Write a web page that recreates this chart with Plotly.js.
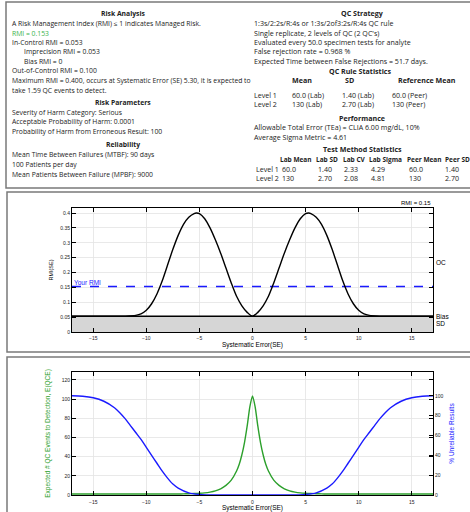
<!DOCTYPE html>
<html><head><meta charset="utf-8">
<script src="https://cdn.plot.ly/plotly-3.0.1.min.js"></script>
<style>html,body{margin:0;padding:0;background:#fff;}#chart{width:470px;height:512px;}</style>
</head><body><div id="chart"></div>
<script>
// ---------- data ----------
var seRmi = [-17,-13,-12,-11,-10.5,-10,-9.5,-9,-8.5,-8,-7.5,-7,-6.5,-6,-5.5,-5.3,-5,-4.5,-4,-3.5,-3,-2.5,-2,-1.5,-1,-0.5,0,0.5,1,1.5,2,2.5,3,3.5,4,4.5,5,5.3,5.5,6,6.5,7,7.5,8,8.5,9,9.5,10,10.5,11,12,13,17];
var rmi   = [0.053,0.053,0.0535,0.056,0.061,0.073,0.095,0.128,0.172,0.225,0.278,0.325,0.362,0.386,0.398,0.400,0.398,0.381,0.350,0.310,0.265,0.215,0.165,0.120,0.088,0.066,0.053,0.066,0.088,0.120,0.165,0.215,0.265,0.310,0.350,0.381,0.398,0.400,0.398,0.386,0.362,0.325,0.278,0.225,0.172,0.128,0.095,0.073,0.061,0.056,0.0535,0.053,0.053];
var inControlRmi = 0.053;
var yourRmi = 0.153;
var seFlat = [-17, 17];

var seQce = [-17,-9,-8,-7,-6.5,-6,-5.5,-5.3,-5,-4.5,-4,-3.5,-3,-2.5,-2,-1.5,-1.25,-1,-0.75,-0.5,-0.25,0,0.25,0.5,0.75,1,1.25,1.5,2,2.5,3,3.5,4,4.5,5,5.3,5.5,6,6.5,7,8,9,17];
var qce   = [1,1,1.02,1.09,1.17,1.3,1.5,1.59,1.75,2.2,3.0,4.3,6.5,10,15.5,25,32,42,55,72,92,103.3,92,72,55,42,32,25,15.5,10,6.5,4.3,3.0,2.2,1.75,1.59,1.5,1.3,1.17,1.09,1.02,1,1];

var seUnrel = [-17,-16,-15,-14,-13,-12.5,-12,-11.5,-11,-10.5,-10,-9.5,-9,-8.5,-8,-7.5,-7,-6,-5,-4,-3,0,3,4,5,6,7,7.5,8,8.5,9,9.5,10,10.5,11,11.5,12,12.5,13,14,15,16,17];
var unrel   = [100,99.5,98,94.5,88,83,77,70,63,56,48,40,32,24,17,11,7,2.2,0.6,0.1,0,0,0,0.1,0.6,2.2,7,11,17,24,32,40,48,56,63,70,77,83,88,94.5,98,99.5,100];

var xTicks = [-15,-10,-5,0,5,10,15];
var rmiTicks = [0,0.05,0.1,0.15,0.2,0.25,0.3,0.35,0.4];
var rmiTickText = ["0","0.05","0.1","0.15","0.2","0.25","0.3","0.35","0.4"];

// text panel data
var riskLines = ["A Risk Management Index (RMI) \u2264 1 indicates Managed Risk.","RMI = 0.153","In-Control RMI = 0.053","Imprecision RMI = 0.053","Bias RMI = 0","Out-of-Control RMI = 0.100","Maximum RMI = 0.400, occurs at Systematic Error (SE) 5.30, it is expected to","take 1.59 QC events to detect."];
var paramLines = ["Severity of Harm Category: Serious","Acceptable Probability of Harm: 0.0001","Probability of Harm from Erroneous Result: 100"];
var reliabLines = ["Mean Time Between Failures (MTBF): 90 days","100 Patients per day","Mean Patients Between Failure (MPBF): 9000"];
var strategyLines = ["1:3s/2:2s/R:4s or 1:3s/2of3:2s/R:4s QC rule","Single replicate, 2 levels of QC (2 QC's)","Evaluated every 50.0 specimen tests for analyte","False rejection rate = 0.968 %","Expected Time between False Rejections = 51.7 days."];
var levels = ["Level 1","Level 2"];
var ruleMean = ["60.0 (Lab)","130 (Lab)"];
var ruleSD = ["1.40 (Lab)","2.70 (Lab)"];
var ruleRef = ["60.0 (Peer)","130 (Peer)"];
var perfLines = ["Allowable Total Error (TEa) = CLIA 6.00 mg/dL, 10%","Average Sigma Metric = 4.61"];
var tmHeaders = ["Lab Mean","Lab SD","Lab CV","Lab Sigma","Peer Mean","Peer SD"];
var labMean = ["60.0","130"];
var labSD = ["1.40","2.70"];
var labCV = ["2.33","2.08"];
var labSigma = ["4.29","4.81"];
var peerMean = ["60.0","130"];
var peerSD = ["1.40","2.70"];

// ---------- layout helpers ----------
var W = 470, H = 512;
var FONT = "Open Sans, Noto Sans, sans-serif";
var FSL = 6.8, FSR = 7.1;
function ann(text, xp, yp, o) {
  o = o || {};
  return {xref:'paper', yref:'paper', x: xp/W, y: 1 - yp/H, text: text, showarrow:false,
    xanchor: o.xa || 'left', yanchor:'middle', align: o.xa || 'left',
    font:{family:o.family||FONT, size:o.size||FSR, color:o.color||'#222'}};
}
var anns = [];
// left column
anns.push(ann('<b>Risk Analysis</b>', 123, 13, {xa:'center', size:FSL}));
var ly = [23,33,42,51,61,70,80,90];
var lx = [10,10,10,22,22,10,10,10];
for (var i=0;i<riskLines.length;i++) anns.push(ann(riskLines[i], lx[i], ly[i], i===1?{color:'#3cb44b', size:FSL}:{size:FSL}));
anns.push(ann('<b>Risk Parameters</b>', 123, 102, {xa:'center', size:FSL}));
var py1 = [112,121,131];
for (i=0;i<paramLines.length;i++) anns.push(ann(paramLines[i], 10, py1[i], {size:FSL}));
anns.push(ann('<b>Reliability</b>', 123, 144, {xa:'center', size:FSL}));
var py2 = [154,164,174];
for (i=0;i<reliabLines.length;i++) anns.push(ann(reliabLines[i], 10, py2[i], {size:FSL}));
// right column
anns.push(ann('<b>QC Strategy</b>', 362, 13, {xa:'center'}));
var sy = [23,33,42,51,61];
for (i=0;i<strategyLines.length;i++) anns.push(ann(strategyLines[i], 252, sy[i]));
anns.push(ann('<b>QC Rule Statistics</b>', 360, 71, {xa:'center'}));
anns.push(ann('<b>Mean</b>', 290, 80));
anns.push(ann('<b>SD</b>', 343, 80));
anns.push(ann('<b>Reference Mean</b>', 396, 80));
var ry = [95,104];
for (i=0;i<2;i++) {
  anns.push(ann(levels[i], 252, ry[i]));
  anns.push(ann(ruleMean[i], 290, ry[i]));
  anns.push(ann(ruleSD[i], 340, ry[i]));
  anns.push(ann(ruleRef[i], 390, ry[i]));
}
anns.push(ann('<b>Performance</b>', 362, 118, {xa:'center'}));
anns.push(ann(perfLines[0], 252, 127));
anns.push(ann(perfLines[1], 252, 137));
anns.push(ann('<b>Test Method Statistics</b>', 362, 149, {xa:'center'}));
var hx = [278,314,341,367,405,443];
for (i=0;i<tmHeaders.length;i++) anns.push(ann('<b>'+tmHeaders[i]+'</b>', hx[i], 159, {size:6.5}));
var ty = [169,178];
var vx = [280,316,342,369,407,443];
for (i=0;i<2;i++) {
  anns.push(ann(levels[i], 254, ty[i]));
  var row = [labMean[i],labSD[i],labCV[i],labSigma[i],peerMean[i],peerSD[i]];
  for (var j=0;j<row.length;j++) anns.push(ann(row[j], vx[j], ty[i]));
}
// chart annotations
var AF = "Liberation Sans, Arial, sans-serif";
anns.push({xref:'x', yref:'paper', x:17, y:1-203/H, text:'RMI = 0.15', showarrow:false, xanchor:'right', yanchor:'middle', font:{family:AF,size:6,color:'#000'}});
anns.push({xref:'paper', yref:'y', x:434/W, y:0.235, text:'OC', showarrow:false, xanchor:'left', yanchor:'middle', font:{family:AF,size:6.5,color:'#000'}});
anns.push({xref:'paper', yref:'y', x:434/W, y:inControlRmi, text:'Bias', showarrow:false, xanchor:'left', yanchor:'middle', font:{family:AF,size:6.5,color:'#000'}});
anns.push({xref:'paper', yref:'y', x:434/W, y:0.028, text:'SD', showarrow:false, xanchor:'left', yanchor:'middle', font:{family:AF,size:6.5,color:'#000'}});
anns.push({xref:'x', yref:'y', x:-17, y:yourRmi, text:'Your RMI', showarrow:false, xanchor:'left', yanchor:'bottom', yshift:-1, font:{family:AF,size:6.5,color:'#1a1aff'}});

var shapes = [
  {type:'rect', xref:'paper', yref:'paper', x0:6/W, x1:490/W, y0:1-188/H, y1:1-2/H, line:{color:'#7a7a7a', width:1.5}},
  {type:'rect', xref:'paper', yref:'paper', x0:7/W, x1:490/W, y0:1-352/H, y1:1-192/H, line:{color:'#7a7a7a', width:1.5}},
  {type:'rect', xref:'paper', yref:'paper', x0:7/W, x1:490/W, y0:1-530/H, y1:1-357/H, line:{color:'#7a7a7a', width:1.5}}
];

var tickFont = {family:AF, size:5, color:'#222'};
var axBase = {showline:true, linecolor:'#000', linewidth:1, mirror:'ticks', ticks:'inside', ticklen:4, tickcolor:'#000',
  showgrid:true, gridcolor:'#e3e3e3', gridwidth:0.8, zeroline:false, tickfont:tickFont, fixedrange:true};
function ax(o){ var r = {}; for (var k in axBase) r[k]=axBase[k]; for (k in o) r[k]=o[k]; return r; }

var xDom = [72/W, 433/W];
var layout = {
  width:W, height:H, margin:{l:0,r:0,t:0,b:0}, paper_bgcolor:'#fff', plot_bgcolor:'#fff', showlegend:false,
  xaxis: ax({domain:xDom, anchor:'y', range:[-17,17], tickvals:xTicks, ticklabelstandoff:1,
    title:{text:'Systematic Error(SE)', font:{family:AF,size:6.5,color:'#000'}, standoff:2}}),
  yaxis: ax({domain:[1-332/H, 1-208/H], anchor:'x', range:[0,0.417], tickvals:rmiTicks, ticktext:rmiTickText,
    title:{text:'RMI(SE)', font:{family:AF,size:5.5,color:'#000'}, standoff:6}}),
  xaxis2: ax({domain:xDom, anchor:'y2', range:[-17,17], tickvals:xTicks, ticklabelstandoff:2,
    title:{text:'Systematic Error(SE)', font:{family:AF,size:6.5,color:'#000'}, standoff:1}}),
  yaxis2: ax({domain:[1-495/H, 1-372/H], anchor:'x2', range:[0,128.3], tickvals:[0,20,40,60,80,100,120],
    title:{text:'Expected # QC Events to Detection, E(QCE)', font:{family:AF,size:6.5,color:'#2ca02c'}, standoff:10}}),
  yaxis3: ax({domain:[1-495/H, 1-372/H], anchor:'x2', overlaying:'y2', side:'right', range:[0,124], tickvals:[0,20,40,60,80,100],
    showgrid:false, mirror:false,
    title:{text:'% Unreliable Results', font:{family:AF,size:6.5,color:'#1a1aff'}, standoff:6}}),
  annotations: anns, shapes: shapes
};

var traces = [
  {x:seFlat, y:[inControlRmi,inControlRmi], xaxis:'x', yaxis:'y', type:'scatter', mode:'lines', fill:'tozeroy', fillcolor:'#d6d6d6', line:{color:'#000', width:1.3}},
  {x:seFlat, y:[yourRmi,yourRmi], xaxis:'x', yaxis:'y', type:'scatter', mode:'lines', line:{color:'#1a1aff', width:1.6, dash:'dash'}},
  {x:seRmi, y:rmi, xaxis:'x', yaxis:'y', type:'scatter', mode:'lines', line:{color:'#000', width:1.4, shape:'spline', smoothing:0.8}},
  {x:seUnrel, y:unrel, xaxis:'x2', yaxis:'y3', type:'scatter', mode:'lines', line:{color:'#1a1aff', width:1.4, shape:'spline', smoothing:0.8}},
  {x:seQce, y:qce, xaxis:'x2', yaxis:'y2', type:'scatter', mode:'lines', line:{color:'#2ca02c', width:1.4, shape:'spline', smoothing:0.6}}
];

Plotly.newPlot('chart', traces, layout, {staticPlot:true, displayModeBar:false});
</script></body></html>
